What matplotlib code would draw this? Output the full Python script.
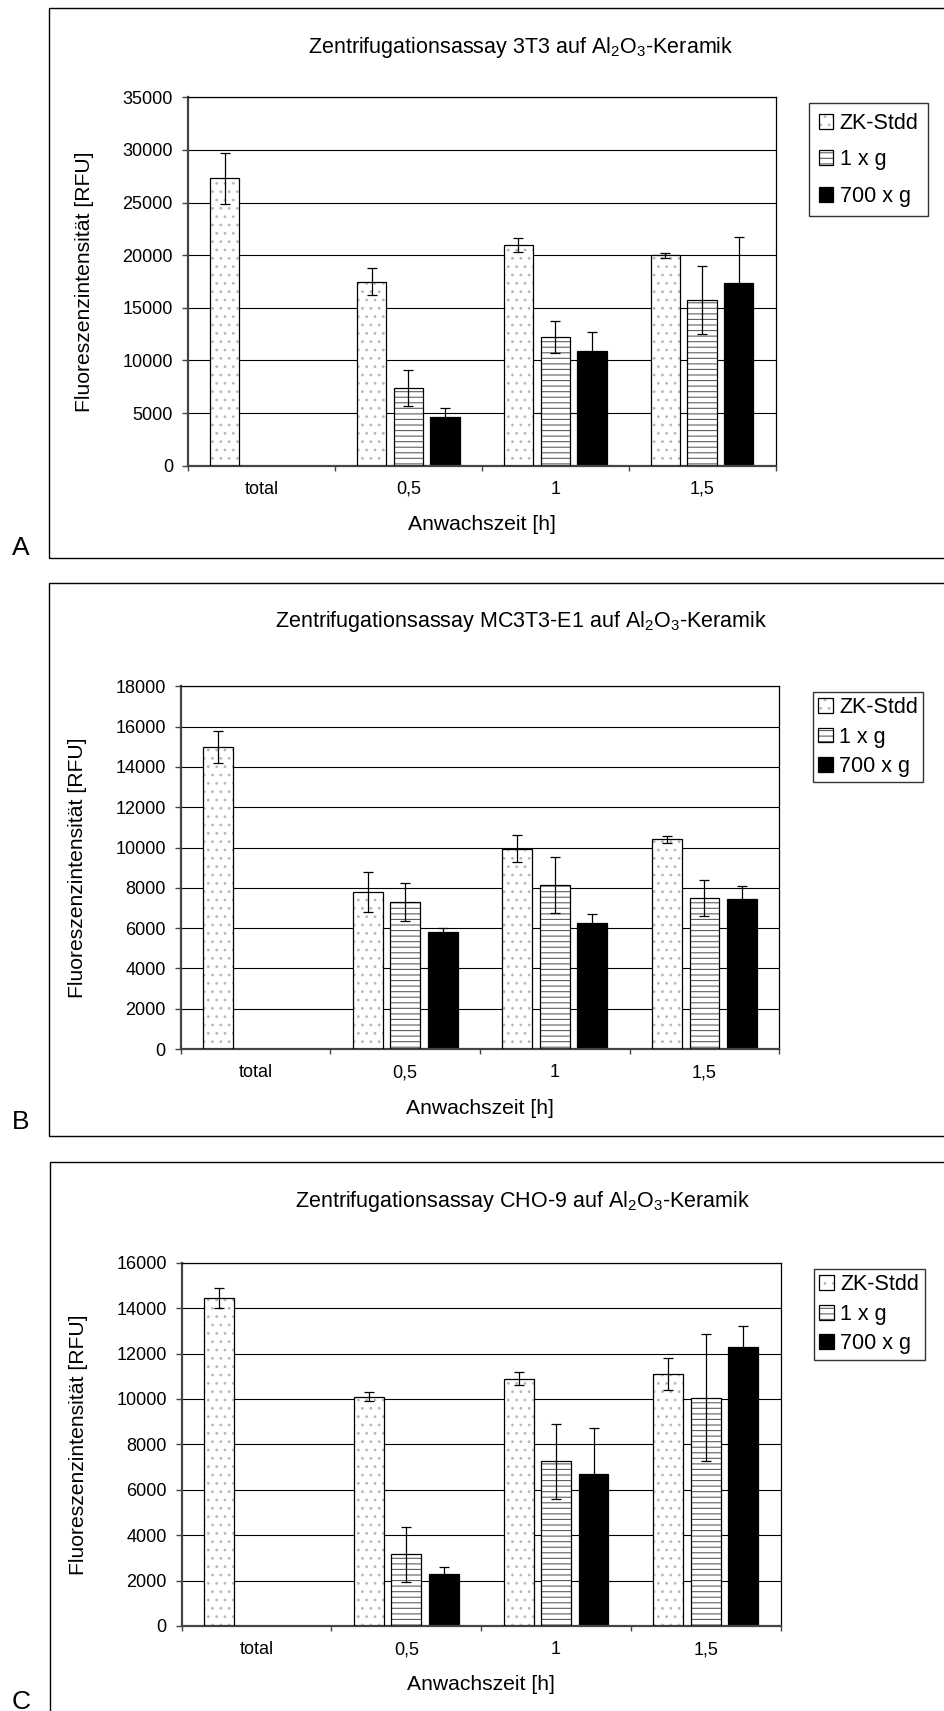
import numpy as np
import matplotlib
matplotlib.use('Agg')
import matplotlib.pyplot as plt
from matplotlib.patches import Rectangle

plt.rcParams['font.family'] = ['Liberation Sans', 'DejaVu Sans']
plt.rcParams['mathtext.fontset'] = 'custom'
plt.rcParams['mathtext.rm'] = 'Liberation Sans'
plt.rcParams['mathtext.it'] = 'Liberation Sans:italic'
plt.rcParams['hatch.linewidth'] = 0.8

# categories and series
categories = ['total', '0,5', '1', '1,5']
series_names = ['ZK-Stdd', '1 x g', '700 x g']
nan = np.nan

# Panel A: 3T3
zk_a = [27300, 17500, 21000, 20000]
zk_a_err = [2400, 1250, 650, 250]
g1_a = [nan, 7350, 12200, 15750]
g1_a_err = [nan, 1700, 1500, 3250]
g700_a = [nan, 4650, 10900, 17400]
g700_a_err = [nan, 850, 1800, 4300]

# Panel B: MC3T3-E1
zk_b = [15000, 7800, 9950, 10400]
zk_b_err = [800, 1000, 680, 180]
g1_b = [nan, 7300, 8150, 7500]
g1_b_err = [nan, 960, 1400, 900]
g700_b = [nan, 5800, 6250, 7450]
g700_b_err = [nan, 200, 460, 650]

# Panel C: CHO-9
zk_c = [14450, 10100, 10900, 11100]
zk_c_err = [450, 200, 300, 700]
g1_c = [nan, 3150, 7250, 10050]
g1_c_err = [nan, 1200, 1650, 2800]
g700_c = [nan, 2300, 6700, 12300]
g700_c_err = [nan, 300, 2000, 900]

titles = ['Zentrifugationsassay 3T3 auf Al$_2$O$_3$-Keramik',
          'Zentrifugationsassay MC3T3-E1 auf Al$_2$O$_3$-Keramik',
          'Zentrifugationsassay CHO-9 auf Al$_2$O$_3$-Keramik']
panel_letters = ['A', 'B', 'C']
ymax_list = [35000, 18000, 16000]
ystep_list = [5000, 2000, 2000]

W, H = 945, 1711


def fx(px):
    return px / W


def fy(py):
    return 1 - py / H


# layout in pixels: plot area, outer box, title, legend, letter
layouts = [
    dict(plot=(188, 97.3, 775.5, 465.7), box=(49.4, 7.8, 557.6), title=(521, 47),
         leg=(809, 103), borderpad=0.45, labelspacing=0.72, letter=(21, 548)),
    dict(plot=(180.7, 686.3, 779.3, 1049), box=(49.3, 583, 1136), title=(521, 621),
         leg=(812.7, 692), borderpad=0.25, labelspacing=0.38, letter=(21, 1122)),
    dict(plot=(181.7, 1262.7, 780.7, 1626), box=(50, 1162, 1730), title=(523, 1201.5),
         leg=(814, 1268.7), borderpad=0.25, labelspacing=0.4, letter=(21, 1702)),
]

data = [
    [(zk_a, zk_a_err), (g1_a, g1_a_err), (g700_a, g700_a_err)],
    [(zk_b, zk_b_err), (g1_b, g1_b_err), (g700_b, g700_b_err)],
    [(zk_c, zk_c_err), (g1_c, g1_c_err), (g700_c, g700_c_err)],
]

fig = plt.figure(figsize=(W / 100, H / 100), dpi=100)

x = np.arange(len(categories))
width = 0.2
offsets = [-0.25, 0.0, 0.25]
hatches = ['..', '---', None]
hatch_colors = ['#b8b8b8', '#606060', None]

for k in range(3):
    lay = layouts[k]
    l, t, r, b = lay['plot']
    ax = fig.add_axes([fx(l), fy(b), (r - l) / W, (b - t) / H])

    # outer chart frame
    bx, bt, bb = lay['box']
    fig.add_artist(Rectangle((fx(bx), fy(bb)), 1.2, (bb - bt) / H,
                             transform=fig.transFigure, fill=False,
                             edgecolor='black', linewidth=1.0, clip_on=False))

    handles = []
    for i, (vals, errs) in enumerate(data[k]):
        vals = np.array(vals, dtype=float)
        errs = np.array(errs, dtype=float)
        pos = x + offsets[i]
        if hatches[i] is not None:
            h1 = ax.bar(pos, vals, width, color='white', edgecolor=hatch_colors[i],
                        hatch=hatches[i], linewidth=0, zorder=2)
            h2 = ax.bar(pos, vals, width, fill=False, edgecolor='black',
                        linewidth=0.9, zorder=3)
            handles.append((h1, h2))
        else:
            h1 = ax.bar(pos, vals, width, color='black', edgecolor='black',
                        linewidth=0.9, zorder=2)
            handles.append(h1)
        ax.errorbar(pos, vals, yerr=errs, fmt='none', ecolor='black',
                    elinewidth=0.9, capsize=3.3, capthick=0.9, zorder=4)

    ymax = ymax_list[k]
    ax.set_ylim(0, ymax)
    ax.set_xlim(-0.5, len(categories) - 0.5)
    ax.set_yticks(np.arange(0, ymax + 1, ystep_list[k]))
    ax.set_yticklabels([str(int(v)) for v in np.arange(0, ymax + 1, ystep_list[k])])
    ax.yaxis.grid(True, color='black', linewidth=0.8)
    ax.set_axisbelow(True)

    ax.set_xticks(np.arange(-0.5, len(categories), 1.0))
    ax.set_xticklabels([''] * (len(categories) + 1))
    ax.set_xticks(x, minor=True)
    ax.set_xticklabels(categories, minor=True)
    ax.tick_params(axis='x', which='major', direction='out', length=3.6, width=1.0,
                   color='#444444')
    ax.tick_params(axis='x', which='minor', length=0, pad=11, labelsize=13)
    ax.tick_params(axis='y', direction='out', length=4.3, width=1.0,
                   color='#444444', pad=6.5, labelsize=13)

    for side in ['left', 'bottom']:
        ax.spines[side].set_color('#444444')
        ax.spines[side].set_linewidth(1.6)
    for side in ['top', 'right']:
        ax.spines[side].set_color('black')
        ax.spines[side].set_linewidth(0.9)

    # texts
    tx, ty = lay['title']
    fig.text(fx(tx), fy(ty), titles[k], ha='center', va='center', fontsize=15.5)
    fig.text(fx(l - 103), fy((t + b) / 2), 'Fluoreszenzintensität [RFU]',
             rotation=90, ha='center', va='center', fontsize=15.2)
    fig.text(fx((l + r) / 2), fy(b + 59), 'Anwachszeit [h]',
             ha='center', va='center', fontsize=15.2)
    lx, ly = lay['letter']
    fig.text(fx(lx), fy(ly), panel_letters[k], ha='center', va='center', fontsize=19)

    leg = ax.legend(handles, series_names, loc='upper left',
                    bbox_to_anchor=(fx(lay['leg'][0]), fy(lay['leg'][1])),
                    bbox_transform=fig.transFigure, frameon=True, fancybox=False,
                    edgecolor='#333333', framealpha=1, fontsize=15.5,
                    handlelength=0.68, handleheight=0.68, handletextpad=0.3,
                    borderpad=lay['borderpad'], labelspacing=lay['labelspacing'],
                    borderaxespad=0)
    leg.get_frame().set_linewidth(1.0)

fig.savefig('out.png', dpi=100)
